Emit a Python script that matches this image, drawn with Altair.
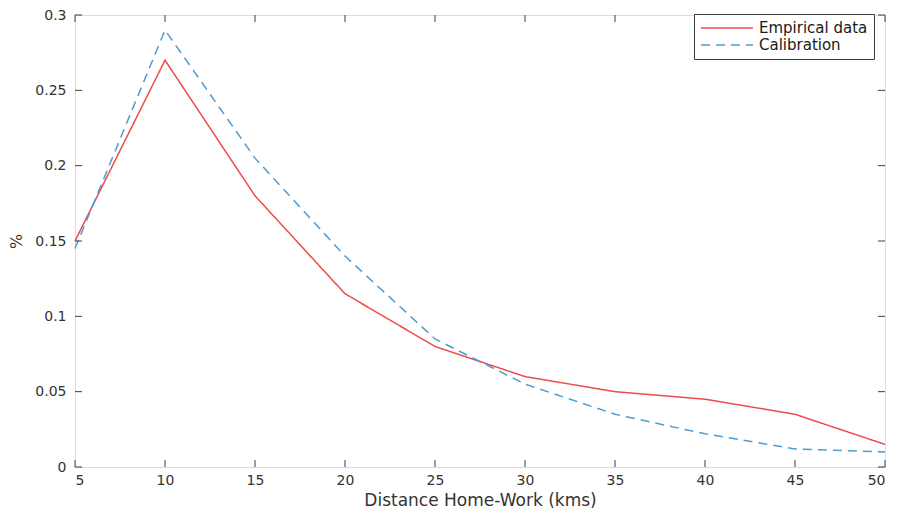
import altair as alt
import pandas as pd

distance = [5, 10, 15, 20, 25, 30, 35, 40, 45, 50]
empirical = [0.15, 0.27, 0.18, 0.115, 0.08, 0.06, 0.05, 0.045, 0.035, 0.015]
calibration = [0.145, 0.29, 0.205, 0.14, 0.085, 0.055, 0.035, 0.022, 0.012, 0.010]
series_names = ["Empirical data", "Calibration"]
x_ticks = [5, 10, 15, 20, 25, 30, 35, 40, 45, 50]
y_ticks = [0, 0.05, 0.1, 0.15, 0.2, 0.25, 0.3]

W, H = 810, 452
BOX = "#3c3c3c"
TXT = "#333333"
FONT = "DejaVu Sans"

rows = []
for d, e, c in zip(distance, empirical, calibration):
    rows.append({"d": d, "v": e, "s": series_names[0]})
    rows.append({"d": d, "v": c, "s": series_names[1]})
df = pd.DataFrame(rows)

xscale = alt.Scale(domain=[5, 50], nice=False, zero=False)
yscale = alt.Scale(domain=[0, 0.3], nice=False)

LINE_PATH = "M-1,0H6.43"


def make_legend():
    return alt.Legend(title=None, orient="none", legendX=619, legendY=-1,
                      symbolType=LINE_PATH, symbolSize=196, symbolStrokeWidth=1.5,
                      labelFont=FONT, labelFontSize=15, labelColor="#1a1a1a",
                      labelOffset=43, padding=6, rowPadding=1,
                      strokeColor=BOX, fillColor="white")


lines = alt.Chart(df).mark_line(strokeWidth=1.5).encode(
    x=alt.X("d:Q", scale=xscale,
            axis=alt.Axis(values=x_ticks, format="d", ticks=False, domain=False, grid=False,
                          labelFont=FONT, labelFontSize=14, labelColor=TXT, labelPadding=6,
                          title="Distance Home-Work (kms)", titleFont=FONT, titleFontSize=17,
                          titleFontWeight="normal", titleColor=TXT, titlePadding=5)),
    y=alt.Y("v:Q", scale=yscale,
            axis=alt.Axis(values=y_ticks, format="~g", ticks=False, domain=False, grid=False,
                          labelFont=FONT, labelFontSize=14, labelColor=TXT, labelPadding=9,
                          title="%", titleFont=FONT, titleFontSize=16, titleFontWeight="normal",
                          titleColor=TXT, titlePadding=10)),
    color=alt.Color("s:N", scale=alt.Scale(domain=series_names, range=["#ee4b4b", "#4b9cd3"]),
                    legend=make_legend()),
    strokeDash=alt.StrokeDash("s:N", scale=alt.Scale(domain=series_names, range=[[1, 0], [9, 6]]),
                              legend=make_legend()),
)

xt = pd.DataFrame({"t": x_ticks})
yt = pd.DataFrame({"t": y_ticks})

xb = alt.Chart(xt).mark_rule(color=BOX, strokeWidth=1).encode(
    x=alt.X("t:Q", scale=xscale), y=alt.value(H), y2=alt.value(H - 7))
xtop = alt.Chart(xt).mark_rule(color=BOX, strokeWidth=1).encode(
    x=alt.X("t:Q", scale=xscale), y=alt.value(0), y2=alt.value(7))
yl = alt.Chart(yt).mark_rule(color=BOX, strokeWidth=1).encode(
    y=alt.Y("t:Q", scale=yscale), x=alt.value(0), x2=alt.value(7))
yr = alt.Chart(yt).mark_rule(color=BOX, strokeWidth=1).encode(
    y=alt.Y("t:Q", scale=yscale), x=alt.value(W), x2=alt.value(W - 7))

chart = alt.layer(lines, xb, xtop, yl, yr).properties(
    width=W, height=H,
    autosize=alt.AutoSizeParams(type="none"),
    padding={"left": 67, "top": 7, "right": 9, "bottom": 45},
).configure_view(stroke=BOX, strokeWidth=1.2).configure(background="white")

chart.save("out.html", embed_options={"renderer": "svg", "actions": False})
